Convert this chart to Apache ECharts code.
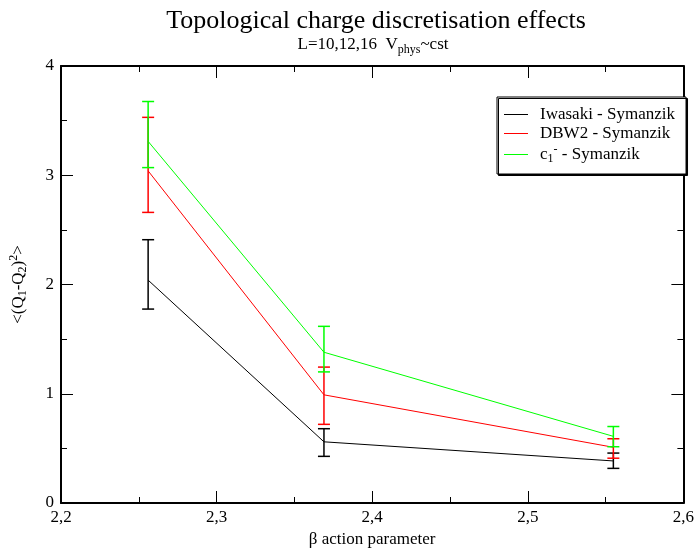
<!DOCTYPE html>
<html>
<head>
<meta charset="utf-8">
<script src="https://cdn.jsdelivr.net/npm/echarts@6/dist/echarts.min.js"></script>
<style>html,body{margin:0;padding:0;background:#fff;}#c{width:697px;height:556px;}</style>
</head>
<body>
<div id="c"></div>
<script>
const beta = [2.256, 2.369, 2.555];
const iwasaki = [2.04, 0.56, 0.385];
const iwasakiLo = [1.775, 0.427, 0.317];
const iwasakiHi = [2.41, 0.68, 0.457];
const dbw2 = [3.04, 0.99, 0.51];
const dbw2Lo = [2.66, 0.72, 0.41];
const dbw2Hi = [3.53, 1.244, 0.588];
const c1 = [3.31, 1.38, 0.61];
const c1Lo = [3.07, 1.20, 0.515];
const c1Hi = [3.675, 1.617, 0.70];
const xTicks = ['2,2', '2,3', '2,4', '2,5', '2,6'];
const yTicks = ['0', '1', '2', '3', '4'];

const FONT = 'Liberation Serif';
const names = ['Iwasaki - Symanzik', 'DBW2 - Symanzik', 'c1 - Symanzik'];
const colors = ['#000000', '#ff0000', '#00ff00'];
const vals = [iwasaki, dbw2, c1];
const los = [iwasakiLo, dbw2Lo, c1Lo];
const his = [iwasakiHi, dbw2Hi, c1Hi];

const series = [];
names.forEach((n, i) => {
  series.push({
    name: n, type: 'line', symbol: 'none', xAxisIndex: 0, yAxisIndex: 0,
    data: beta.map((b, k) => [b, vals[i][k]]),
    lineStyle: { color: colors[i], width: 1 }, itemStyle: { color: colors[i] },
    z: 3, animation: false
  });
});
names.forEach((n, i) => {
  series.push({
    name: n, type: 'custom', xAxisIndex: 0, yAxisIndex: 0,
    data: beta.map((b, k) => [b, los[i][k], his[i][k]]),
    renderItem: function (params, api) {
      const lo = api.coord([api.value(0), api.value(1)]);
      const hi = api.coord([api.value(0), api.value(2)]);
      const w = 6;
      const st = { stroke: colors[i], lineWidth: 1.5 };
      return { type: 'group', children: [
        { type: 'line', shape: { x1: lo[0], y1: lo[1], x2: hi[0], y2: hi[1] }, style: st },
        { type: 'line', shape: { x1: lo[0] - w, y1: lo[1], x2: lo[0] + w, y2: lo[1] }, style: st },
        { type: 'line', shape: { x1: hi[0] - w, y1: hi[1], x2: hi[0] + w, y2: hi[1] }, style: st }
      ]};
    },
    z: 4, animation: false
  });
});

const axisCommon = {
  axisLine: { show: true, onZero: false, lineStyle: { color: '#000', width: 2 } },
  axisTick: { show: true, inside: true, length: 12, lineStyle: { color: '#000', width: 1 } },
  minorTick: { show: true, splitNumber: 2, length: 6, lineStyle: { color: '#000', width: 1 } },
  splitLine: { show: false }
};

const richCommon = {
  n: { fontFamily: FONT, fontSize: 17, lineHeight: 21, color: '#000' },
  s: { fontFamily: FONT, fontSize: 12, lineHeight: 10, verticalAlign: 'bottom', color: '#000' },
  p: { fontFamily: FONT, fontSize: 12, lineHeight: 10, verticalAlign: 'top', color: '#000' }
};

const option = {
  backgroundColor: '#fff',
  animation: false,
  textStyle: { fontFamily: FONT, color: '#000' },
  title: [
    { text: 'Topological charge discretisation effects', left: 371, top: 3, textAlign: 'center',
      textStyle: { fontFamily: FONT, fontSize: 26, fontWeight: 'normal', color: '#000' } },
    { text: '{n|L=10,12,16  V}{s|phys}{n|~cst}', left: 368, top: 29, textAlign: 'center',
      textStyle: { fontFamily: FONT, fontSize: 17, fontWeight: 'normal', color: '#000',
        rich: { n: { fontFamily: FONT, fontSize: 17, lineHeight: 22, color: '#000' },
                s: { fontFamily: FONT, fontSize: 12, lineHeight: 12, verticalAlign: 'bottom', color: '#000' } } } }
  ],
  grid: { left: 59, right: 12, top: 66, bottom: 53, containLabel: false },
  legend: {
    data: names.map((n, i) => ({ name: n, icon: 'rect', itemStyle: { color: colors[i] } })),
    orient: 'vertical', left: 497, top: 97, padding: [9, 11, 9, 7],
    itemWidth: 24, itemHeight: 1, itemGap: 2,
    backgroundColor: '#fff', borderColor: '#000', borderWidth: 1, borderRadius: 0,
    shadowColor: '#000', shadowBlur: 0, shadowOffsetX: 1.5, shadowOffsetY: 1.5,
    selectedMode: false,
    formatter: function (name) {
      if (name === 'c1 - Symanzik') return '{n|c}{s|1}{p|-}{n| - Symanzik}';
      return '{n|' + name + '}';
    },
    textStyle: { fontFamily: FONT, fontSize: 17, color: '#000', padding: [0, 0, 0, 7], rich: richCommon }
  },
  xAxis: [
    Object.assign({}, axisCommon, {
      type: 'value', min: 2.2, max: 2.6, interval: 0.1, position: 'bottom',
      name: 'β action parameter', nameLocation: 'middle', nameGap: 27,
      nameTextStyle: { fontFamily: FONT, fontSize: 17, color: '#000' },
      axisLabel: { show: true, margin: 6, fontFamily: FONT, fontSize: 17, color: '#000',
        formatter: function (v) { return xTicks[Math.round((v - 2.2) * 10)]; } }
    }),
    Object.assign({}, axisCommon, {
      type: 'value', min: 2.2, max: 2.6, interval: 0.1, position: 'top',
      axisLabel: { show: false }
    })
  ],
  yAxis: [
    Object.assign({}, axisCommon, {
      type: 'value', min: 0, max: 4, interval: 1, position: 'left',
      name: '{n|<(Q}{s|1}{n|-Q}{s|2}{n|)}{p|2}{n|>}', nameLocation: 'middle', nameGap: 32, nameRotate: 90,
      nameTextStyle: { fontFamily: FONT, fontSize: 17, color: '#000', rich: richCommon },
      axisLabel: { show: true, margin: 7, fontFamily: FONT, fontSize: 17, color: '#000',
        formatter: function (v) { return yTicks[Math.round(v)]; } }
    }),
    Object.assign({}, axisCommon, {
      type: 'value', min: 0, max: 4, interval: 1, position: 'right',
      axisLabel: { show: false }
    })
  ],
  series: series
};

const chart = echarts.init(document.getElementById('c'), null, { renderer: 'canvas' });
chart.setOption(option);
</script>
</body>
</html>
